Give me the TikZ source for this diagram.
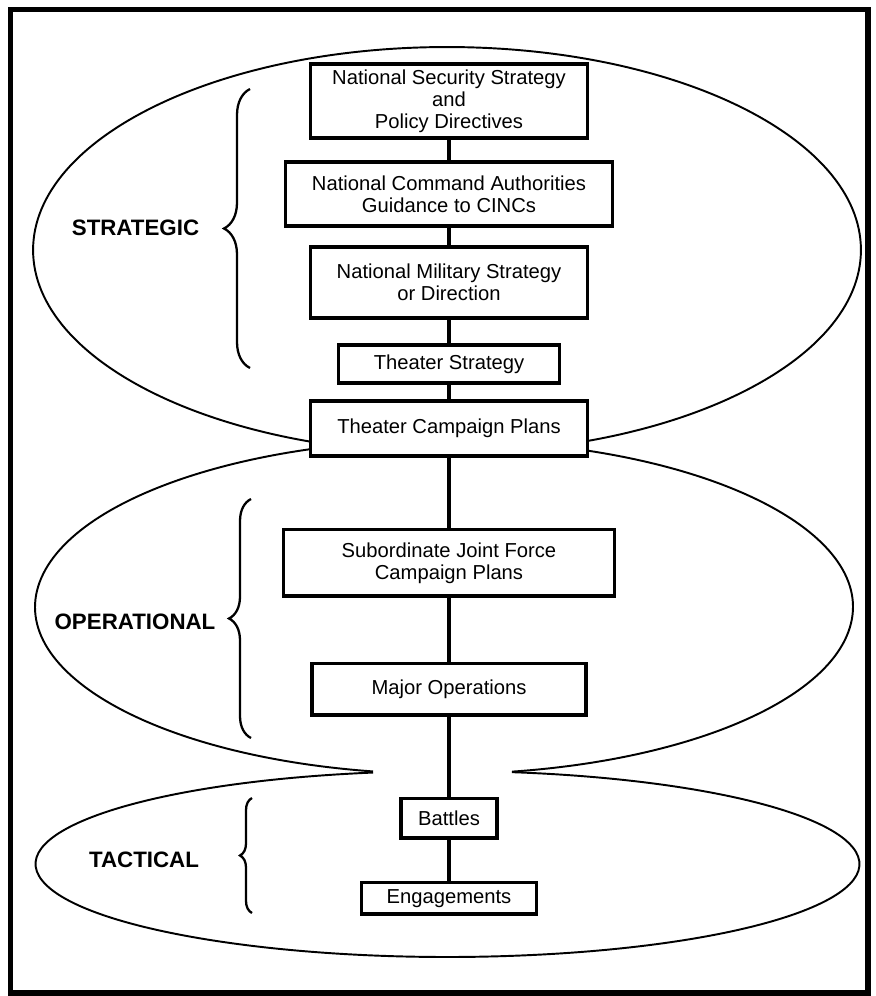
\documentclass[tikz,border=0pt]{standalone}
\usepackage{fontspec}
\setmainfont{Liberation Sans}
\usetikzlibrary{positioning,decorations.pathreplacing}

\begin{document}
\begin{tikzpicture}[x=0.02cm, y=-0.02cm,
	box/.style={draw, line width=2pt, fill=white, align=center, inner sep=2pt,
		font=\fontsize{11.5}{12.5}\selectfont},
	level/.style={font=\bfseries\fontsize{12.7}{14}\selectfont},
	link/.style={line width=2pt},
	region/.style={line width=1.1pt},
	curly/.style={line width=1.3pt, decorate, decoration={brace, amplitude=#1}}]
	% Frame
	\useasboundingbox (0,0) rectangle (875,996);
	\draw [line width=3pt] (10.5,9.5) rectangle (868,993);

	% Regions {strategic, operational, tactical}
	\draw [region] (447,250) ellipse [x radius=8.28cm, y radius=4.06cm];
	\draw [region] (444,607) ++(260:8.18cm and 3.34cm)
		arc [start angle=260, end angle=-80.4, x radius=8.18cm, y radius=3.34cm];
	\draw [region] (447.5,864) ++(100.4:8.24cm and 1.86cm)
		arc [start angle=100.4, end angle=441, x radius=8.24cm, y radius=1.86cm];

	% Nodes {nss, nca, nms, ts, tcp, sjf, mo, bat, eng}
	\node [box, minimum width=5.55cm, minimum height=1.49cm] (nss) at (449,101)
		{National Security Strategy\\and\\Policy Directives};
	\node [box, minimum width=6.55cm, minimum height=1.29cm] (nca) [below=0.4cm of nss]
		{National Command Authorities\\Guidance to CINCs};
	\node [box, minimum width=5.55cm, minimum height=1.43cm] (nms) [below=0.34cm of nca]
		{National Military Strategy\\or Direction};
	\node [box, minimum width=4.43cm, minimum height=0.77cm] (ts)  [below=0.46cm of nms]
		{Theater Strategy};
	\node [box, minimum width=5.55cm, minimum height=1.11cm] (tcp) [below=0.28cm of ts]
		{Theater Campaign Plans};
	\node [box, minimum width=6.63cm, minimum height=1.33cm] (sjf) [below=1.4cm of tcp]
		{Subordinate Joint Force\\Campaign Plans};
	\node [box, minimum width=5.49cm, minimum height=1.03cm] (mo)  [below=1.28cm of sjf]
		{Major Operations};
	\node [box, minimum width=1.93cm, minimum height=0.79cm] (bat) [below=1.6cm of mo]
		{Battles};
	\node [box, minimum width=3.51cm, minimum height=0.63cm] (eng) [below=0.82cm of bat]
		{Engagements};

	% Levels {strat, oper, tact}
	\node [level] (strat) at (135.5,228) {STRATEGIC};
	\node [level] (oper)  at (135,622)   {OPERATIONAL};
	\node [level] (tact)  at (144,860)   {TACTICAL};

	\draw [curly=0.52cm] (250,368) -- (250,89);
	\draw [curly=0.44cm] (251,738) -- (251,499);
	\draw [curly=0.24cm] (252,913) -- (252,798);

	% Paths
	\path [link] (nss) edge (nca)  (nca) edge (nms)  (nms) edge (ts);
	\path [link] (ts)  edge (tcp)  (tcp) edge (sjf)  (sjf) edge (mo);
	\path [link] (mo)  edge (bat)  (bat) edge (eng);

\end{tikzpicture}
\end{document}
